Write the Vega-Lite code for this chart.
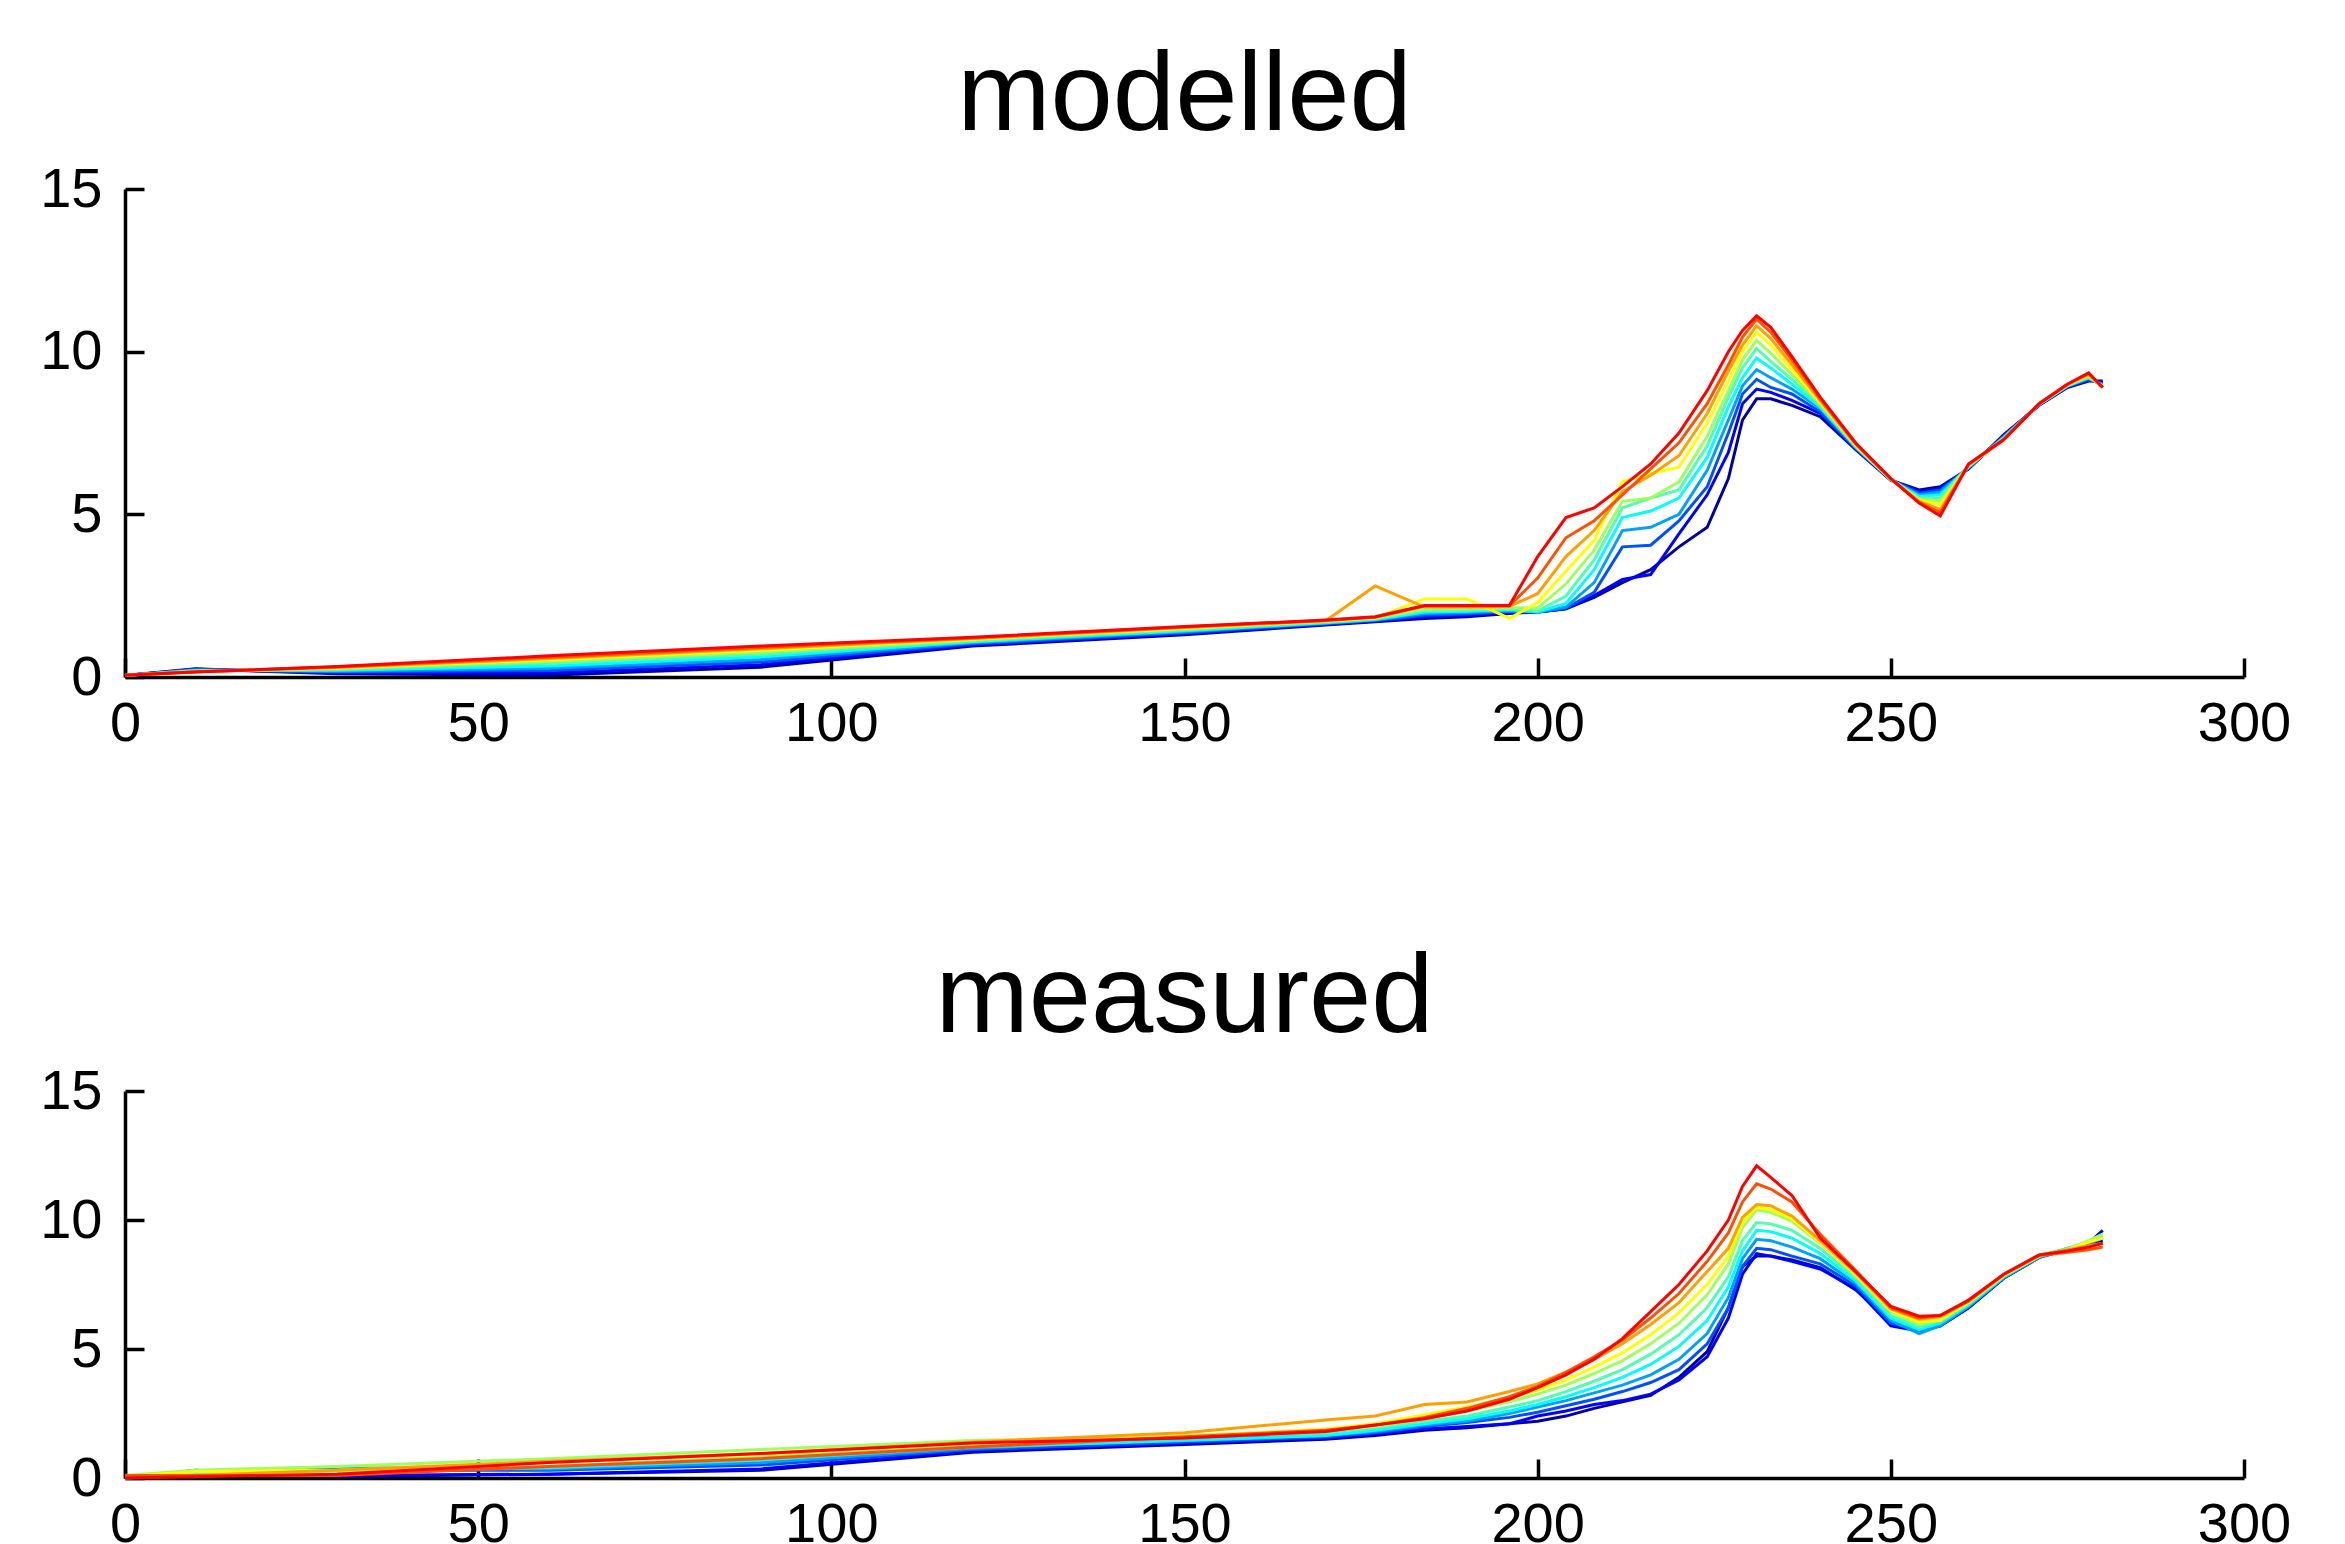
{
"$schema": "https://vega.github.io/schema/vega-lite/v6.json",
"background": "white",
"padding": {"left": 39, "top": 40, "right": 20, "bottom": 0},
"spacing": 191,
"config": {
  "view": {"stroke": null},
  "font": "Liberation Sans",
  "axis": {"grid": false, "domainColor": "black", "domainWidth": 3.5, "tickColor": "black", "tickWidth": 3.5, "tickSize": -19, "labelFont": "Liberation Sans", "labelFontSize": 56, "labelColor": "black", "labelFlush": false, "labelOverlap": false, "title": null},
  "axisX": {"labelPadding": 38},
  "axisY": {"labelPadding": 42},
  "title": {"font": "Liberation Sans", "fontSize": 112, "fontWeight": "normal", "color": "black", "baseline": "alphabetic", "offset": 7, "anchor": "middle"}
},
"datasets": {
"mod": [
{"s":0,"x":0,"y":0.05},{"s":1,"x":0,"y":0.05},{"s":2,"x":0,"y":0.05},{"s":3,"x":0,"y":0.05},{"s":4,"x":0,"y":0.05},{"s":5,"x":0,"y":0.05},{"s":6,"x":0,"y":0.05},{"s":7,"x":0,"y":0.05},{"s":8,"x":0,"y":0.05},{"s":9,"x":0,"y":0.05},{"s":10,"x":0,"y":0.05},
{"s":0,"x":10,"y":0.25},{"s":1,"x":10,"y":0.24},{"s":2,"x":10,"y":0.23},{"s":3,"x":10,"y":0.21},{"s":4,"x":10,"y":0.2},{"s":5,"x":10,"y":0.19},{"s":6,"x":10,"y":0.18},{"s":7,"x":10,"y":0.17},{"s":8,"x":10,"y":0.16},{"s":9,"x":10,"y":0.16},{"s":10,"x":10,"y":0.15},
{"s":0,"x":30,"y":0.1},{"s":1,"x":30,"y":0.13},{"s":2,"x":30,"y":0.16},{"s":3,"x":30,"y":0.18},{"s":4,"x":30,"y":0.21},{"s":5,"x":30,"y":0.23},{"s":6,"x":30,"y":0.26},{"s":7,"x":30,"y":0.28},{"s":8,"x":30,"y":0.29},{"s":9,"x":30,"y":0.31},{"s":10,"x":30,"y":0.32},
{"s":0,"x":60,"y":0.05},{"s":1,"x":60,"y":0.12},{"s":2,"x":60,"y":0.2},{"s":3,"x":60,"y":0.27},{"s":4,"x":60,"y":0.34},{"s":5,"x":60,"y":0.42},{"s":6,"x":60,"y":0.48},{"s":7,"x":60,"y":0.53},{"s":8,"x":60,"y":0.57},{"s":9,"x":60,"y":0.61},{"s":10,"x":60,"y":0.65},
{"s":0,"x":90,"y":0.3},{"s":1,"x":90,"y":0.38},{"s":2,"x":90,"y":0.46},{"s":3,"x":90,"y":0.54},{"s":4,"x":90,"y":0.62},{"s":5,"x":90,"y":0.7},{"s":6,"x":90,"y":0.77},{"s":7,"x":90,"y":0.82},{"s":8,"x":90,"y":0.87},{"s":9,"x":90,"y":0.91},{"s":10,"x":90,"y":0.95},
{"s":0,"x":120,"y":0.95},{"s":1,"x":120,"y":0.98},{"s":2,"x":120,"y":1.02},{"s":3,"x":120,"y":1.05},{"s":4,"x":120,"y":1.08},{"s":5,"x":120,"y":1.11},{"s":6,"x":120,"y":1.14},{"s":7,"x":120,"y":1.17},{"s":8,"x":120,"y":1.18},{"s":9,"x":120,"y":1.2},{"s":10,"x":120,"y":1.22},
{"s":0,"x":150,"y":1.3},{"s":1,"x":150,"y":1.33},{"s":2,"x":150,"y":1.36},{"s":3,"x":150,"y":1.39},{"s":4,"x":150,"y":1.42},{"s":5,"x":150,"y":1.45},{"s":6,"x":150,"y":1.48},{"s":7,"x":150,"y":1.5},{"s":8,"x":150,"y":1.52},{"s":9,"x":150,"y":1.54},{"s":10,"x":150,"y":1.55},
{"s":0,"x":170,"y":1.6},{"s":1,"x":170,"y":1.62},{"s":2,"x":170,"y":1.64},{"s":3,"x":170,"y":1.66},{"s":4,"x":170,"y":1.67},{"s":5,"x":170,"y":1.69},{"s":6,"x":170,"y":1.71},{"s":7,"x":170,"y":1.72},{"s":8,"x":170,"y":1.73},{"s":9,"x":170,"y":1.74},{"s":10,"x":170,"y":1.75},
{"s":0,"x":177,"y":1.7},{"s":1,"x":177,"y":1.72},{"s":2,"x":177,"y":1.74},{"s":3,"x":177,"y":1.76},{"s":4,"x":177,"y":1.77},{"s":5,"x":177,"y":1.79},{"s":6,"x":177,"y":1.81},{"s":7,"x":177,"y":1.82},{"s":8,"x":177,"y":2.8},{"s":9,"x":177,"y":1.84},{"s":10,"x":177,"y":1.85},
{"s":0,"x":184,"y":1.8},{"s":1,"x":184,"y":1.85},{"s":2,"x":184,"y":1.9},{"s":3,"x":184,"y":1.95},{"s":4,"x":184,"y":2.0},{"s":5,"x":184,"y":2.04},{"s":6,"x":184,"y":2.09},{"s":7,"x":184,"y":2.4},{"s":8,"x":184,"y":2.15},{"s":9,"x":184,"y":2.18},{"s":10,"x":184,"y":2.2},
{"s":0,"x":190,"y":1.85},{"s":1,"x":190,"y":1.89},{"s":2,"x":190,"y":1.94},{"s":3,"x":190,"y":1.98},{"s":4,"x":190,"y":2.02},{"s":5,"x":190,"y":2.06},{"s":6,"x":190,"y":2.1},{"s":7,"x":190,"y":2.4},{"s":8,"x":190,"y":2.15},{"s":9,"x":190,"y":2.18},{"s":10,"x":190,"y":2.2},
{"s":0,"x":196,"y":1.95},{"s":1,"x":196,"y":1.98},{"s":2,"x":196,"y":2.01},{"s":3,"x":196,"y":2.04},{"s":4,"x":196,"y":2.07},{"s":5,"x":196,"y":2.1},{"s":6,"x":196,"y":2.13},{"s":7,"x":196,"y":1.8},{"s":8,"x":196,"y":2.17},{"s":9,"x":196,"y":2.19},{"s":10,"x":196,"y":2.2},
{"s":0,"x":200,"y":2.0},{"s":1,"x":200,"y":2.0},{"s":2,"x":200,"y":2.0},{"s":3,"x":200,"y":2.0},{"s":4,"x":200,"y":2.0},{"s":5,"x":200,"y":2.03},{"s":6,"x":200,"y":2.12},{"s":7,"x":200,"y":2.29},{"s":8,"x":200,"y":2.56},{"s":9,"x":200,"y":3.04},{"s":10,"x":200,"y":3.7},
{"s":0,"x":204,"y":2.1},{"s":1,"x":204,"y":2.1},{"s":2,"x":204,"y":2.11},{"s":3,"x":204,"y":2.15},{"s":4,"x":204,"y":2.26},{"s":5,"x":204,"y":2.49},{"s":6,"x":204,"y":2.86},{"s":7,"x":204,"y":3.25},{"s":8,"x":204,"y":3.7},{"s":9,"x":204,"y":4.28},{"s":10,"x":204,"y":4.9},
{"s":0,"x":208,"y":2.45},{"s":1,"x":208,"y":2.5},{"s":2,"x":208,"y":2.6},{"s":3,"x":208,"y":2.9},{"s":4,"x":208,"y":3.3},{"s":5,"x":208,"y":3.6},{"s":6,"x":208,"y":3.9},{"s":7,"x":208,"y":4.2},{"s":8,"x":208,"y":4.5},{"s":9,"x":208,"y":4.8},{"s":10,"x":208,"y":5.2},
{"s":0,"x":212,"y":2.9},{"s":1,"x":212,"y":3.0},{"s":2,"x":212,"y":4.0},{"s":3,"x":212,"y":4.5},{"s":4,"x":212,"y":4.9},{"s":5,"x":212,"y":5.2},{"s":6,"x":212,"y":5.4},{"s":7,"x":212,"y":6.0},{"s":8,"x":212,"y":5.7},{"s":9,"x":212,"y":5.6},{"s":10,"x":212,"y":5.85},
{"s":0,"x":216,"y":3.3},{"s":1,"x":216,"y":3.15},{"s":2,"x":216,"y":4.05},{"s":3,"x":216,"y":4.6},{"s":4,"x":216,"y":5.1},{"s":5,"x":216,"y":5.5},{"s":6,"x":216,"y":5.5},{"s":7,"x":216,"y":6.25},{"s":8,"x":216,"y":6.2},{"s":9,"x":216,"y":6.4},{"s":10,"x":216,"y":6.55},
{"s":0,"x":220,"y":4.0},{"s":1,"x":220,"y":4.4},{"s":2,"x":220,"y":4.8},{"s":3,"x":220,"y":5.0},{"s":4,"x":220,"y":5.5},{"s":5,"x":220,"y":5.75},{"s":6,"x":220,"y":6.0},{"s":7,"x":220,"y":6.45},{"s":8,"x":220,"y":6.8},{"s":9,"x":220,"y":7.2},{"s":10,"x":220,"y":7.5},
{"s":0,"x":224,"y":4.6},{"s":1,"x":224,"y":5.6},{"s":2,"x":224,"y":5.85},{"s":3,"x":224,"y":6.35},{"s":4,"x":224,"y":6.75},{"s":5,"x":224,"y":7.1},{"s":6,"x":224,"y":7.4},{"s":7,"x":224,"y":7.8},{"s":8,"x":224,"y":8.1},{"s":9,"x":224,"y":8.4},{"s":10,"x":224,"y":8.8},
{"s":0,"x":227,"y":6.1},{"s":1,"x":227,"y":6.9},{"s":2,"x":227,"y":7.5},{"s":3,"x":227,"y":7.9},{"s":4,"x":227,"y":8.3},{"s":5,"x":227,"y":8.6},{"s":6,"x":227,"y":8.8},{"s":7,"x":227,"y":9.1},{"s":8,"x":227,"y":9.4},{"s":9,"x":227,"y":9.6},{"s":10,"x":227,"y":10.0},
{"s":0,"x":229,"y":7.9},{"s":1,"x":229,"y":8.4},{"s":2,"x":229,"y":8.7},{"s":3,"x":229,"y":8.95},{"s":4,"x":229,"y":9.2},{"s":5,"x":229,"y":9.5},{"s":6,"x":229,"y":9.75},{"s":7,"x":229,"y":10.0},{"s":8,"x":229,"y":10.2},{"s":9,"x":229,"y":10.45},{"s":10,"x":229,"y":10.65},
{"s":0,"x":231,"y":8.55},{"s":1,"x":231,"y":8.85},{"s":2,"x":231,"y":9.15},{"s":3,"x":231,"y":9.45},{"s":4,"x":231,"y":9.8},{"s":5,"x":231,"y":10.1},{"s":6,"x":231,"y":10.35},{"s":7,"x":231,"y":10.6},{"s":8,"x":231,"y":10.8},{"s":9,"x":231,"y":11.0},{"s":10,"x":231,"y":11.1},
{"s":0,"x":233,"y":8.55},{"s":1,"x":233,"y":8.75},{"s":2,"x":233,"y":8.9},{"s":3,"x":233,"y":9.2},{"s":4,"x":233,"y":9.5},{"s":5,"x":233,"y":9.7},{"s":6,"x":233,"y":9.95},{"s":7,"x":233,"y":10.2},{"s":8,"x":233,"y":10.4},{"s":9,"x":233,"y":10.6},{"s":10,"x":233,"y":10.75},
{"s":0,"x":236,"y":8.35},{"s":1,"x":236,"y":8.5},{"s":2,"x":236,"y":8.7},{"s":3,"x":236,"y":8.85},{"s":4,"x":236,"y":9.0},{"s":5,"x":236,"y":9.15},{"s":6,"x":236,"y":9.3},{"s":7,"x":236,"y":9.45},{"s":8,"x":236,"y":9.6},{"s":9,"x":236,"y":9.75},{"s":10,"x":236,"y":9.85},
{"s":0,"x":240,"y":8.0},{"s":1,"x":240,"y":8.1},{"s":2,"x":240,"y":8.15},{"s":3,"x":240,"y":8.25},{"s":4,"x":240,"y":8.3},{"s":5,"x":240,"y":8.35},{"s":6,"x":240,"y":8.4},{"s":7,"x":240,"y":8.45},{"s":8,"x":240,"y":8.5},{"s":9,"x":240,"y":8.55},{"s":10,"x":240,"y":8.6},
{"s":0,"x":245,"y":7.0},{"s":1,"x":245,"y":7.02},{"s":2,"x":245,"y":7.04},{"s":3,"x":245,"y":7.06},{"s":4,"x":245,"y":7.08},{"s":5,"x":245,"y":7.1},{"s":6,"x":245,"y":7.12},{"s":7,"x":245,"y":7.14},{"s":8,"x":245,"y":7.16},{"s":9,"x":245,"y":7.18},{"s":10,"x":245,"y":7.2},
{"s":0,"x":250,"y":6.05},{"s":1,"x":250,"y":6.05},{"s":2,"x":250,"y":6.06},{"s":3,"x":250,"y":6.06},{"s":4,"x":250,"y":6.07},{"s":5,"x":250,"y":6.07},{"s":6,"x":250,"y":6.08},{"s":7,"x":250,"y":6.08},{"s":8,"x":250,"y":6.09},{"s":9,"x":250,"y":6.1},{"s":10,"x":250,"y":6.1},
{"s":0,"x":254,"y":5.75},{"s":1,"x":254,"y":5.7},{"s":2,"x":254,"y":5.65},{"s":3,"x":254,"y":5.6},{"s":4,"x":254,"y":5.55},{"s":5,"x":254,"y":5.5},{"s":6,"x":254,"y":5.46},{"s":7,"x":254,"y":5.43},{"s":8,"x":254,"y":5.4},{"s":9,"x":254,"y":5.37},{"s":10,"x":254,"y":5.35},
{"s":0,"x":257,"y":5.85},{"s":1,"x":257,"y":5.8},{"s":2,"x":257,"y":5.75},{"s":3,"x":257,"y":5.68},{"s":4,"x":257,"y":5.6},{"s":5,"x":257,"y":5.5},{"s":6,"x":257,"y":5.4},{"s":7,"x":257,"y":5.3},{"s":8,"x":257,"y":5.15},{"s":9,"x":257,"y":5.05},{"s":10,"x":257,"y":4.95},
{"s":0,"x":261,"y":6.4},{"s":1,"x":261,"y":6.4},{"s":2,"x":261,"y":6.42},{"s":3,"x":261,"y":6.44},{"s":4,"x":261,"y":6.46},{"s":5,"x":261,"y":6.48},{"s":6,"x":261,"y":6.5},{"s":7,"x":261,"y":6.5},{"s":8,"x":261,"y":6.52},{"s":9,"x":261,"y":6.53},{"s":10,"x":261,"y":6.55},
{"s":0,"x":266,"y":7.45},{"s":1,"x":266,"y":7.42},{"s":2,"x":266,"y":7.4},{"s":3,"x":266,"y":7.38},{"s":4,"x":266,"y":7.36},{"s":5,"x":266,"y":7.34},{"s":6,"x":266,"y":7.32},{"s":7,"x":266,"y":7.3},{"s":8,"x":266,"y":7.3},{"s":9,"x":266,"y":7.3},{"s":10,"x":266,"y":7.3},
{"s":0,"x":271,"y":8.35},{"s":1,"x":271,"y":8.36},{"s":2,"x":271,"y":8.37},{"s":3,"x":271,"y":8.38},{"s":4,"x":271,"y":8.38},{"s":5,"x":271,"y":8.39},{"s":6,"x":271,"y":8.39},{"s":7,"x":271,"y":8.4},{"s":8,"x":271,"y":8.4},{"s":9,"x":271,"y":8.4},{"s":10,"x":271,"y":8.4},
{"s":0,"x":275,"y":8.9},{"s":1,"x":275,"y":8.92},{"s":2,"x":275,"y":8.93},{"s":3,"x":275,"y":8.94},{"s":4,"x":275,"y":8.95},{"s":5,"x":275,"y":8.96},{"s":6,"x":275,"y":8.97},{"s":7,"x":275,"y":8.98},{"s":8,"x":275,"y":8.99},{"s":9,"x":275,"y":9.0},{"s":10,"x":275,"y":9.0},
{"s":0,"x":278,"y":9.1},{"s":1,"x":278,"y":9.12},{"s":2,"x":278,"y":9.15},{"s":3,"x":278,"y":9.18},{"s":4,"x":278,"y":9.2},{"s":5,"x":278,"y":9.22},{"s":6,"x":278,"y":9.25},{"s":7,"x":278,"y":9.28},{"s":8,"x":278,"y":9.3},{"s":9,"x":278,"y":9.33},{"s":10,"x":278,"y":9.35},
{"s":0,"x":280,"y":9.1},{"s":1,"x":280,"y":9.05},{"s":2,"x":280,"y":9.0},{"s":3,"x":280,"y":8.98},{"s":4,"x":280,"y":8.96},{"s":5,"x":280,"y":8.94},{"s":6,"x":280,"y":8.93},{"s":7,"x":280,"y":8.92},{"s":8,"x":280,"y":8.91},{"s":9,"x":280,"y":8.9},{"s":10,"x":280,"y":8.9}
],
"meas": [
{"s":0,"x":0,"y":0.0},{"s":1,"x":0,"y":0.05},{"s":2,"x":0,"y":0.0},{"s":3,"x":0,"y":0.1},{"s":4,"x":0,"y":0.0},{"s":5,"x":0,"y":0.05},{"s":6,"x":0,"y":0.1},{"s":7,"x":0,"y":0.05},{"s":8,"x":0,"y":0.1},{"s":9,"x":0,"y":0.1},{"s":10,"x":0,"y":0.0},
{"s":0,"x":10,"y":0.3},{"s":1,"x":10,"y":0.2},{"s":2,"x":10,"y":0.15},{"s":3,"x":10,"y":0.05},{"s":4,"x":10,"y":0.1},{"s":5,"x":10,"y":0.2},{"s":6,"x":10,"y":0.3},{"s":7,"x":10,"y":0.25},{"s":8,"x":10,"y":0.1},{"s":9,"x":10,"y":0.1},{"s":10,"x":10,"y":0.05},
{"s":0,"x":30,"y":0.05},{"s":1,"x":30,"y":0.1},{"s":2,"x":30,"y":0.3},{"s":3,"x":30,"y":0.4},{"s":4,"x":30,"y":0.25},{"s":5,"x":30,"y":0.2},{"s":6,"x":30,"y":0.45},{"s":7,"x":30,"y":0.3},{"s":8,"x":30,"y":0.3},{"s":9,"x":30,"y":0.1},{"s":10,"x":30,"y":0.15},
{"s":0,"x":60,"y":0.15},{"s":1,"x":60,"y":0.15},{"s":2,"x":60,"y":0.3},{"s":3,"x":60,"y":0.35},{"s":4,"x":60,"y":0.4},{"s":5,"x":60,"y":0.45},{"s":6,"x":60,"y":0.75},{"s":7,"x":60,"y":0.6},{"s":8,"x":60,"y":0.65},{"s":9,"x":60,"y":0.45},{"s":10,"x":60,"y":0.6},
{"s":0,"x":90,"y":0.3},{"s":1,"x":90,"y":0.35},{"s":2,"x":90,"y":0.5},{"s":3,"x":90,"y":0.6},{"s":4,"x":90,"y":0.7},{"s":5,"x":90,"y":0.8},{"s":6,"x":90,"y":1.1},{"s":7,"x":90,"y":0.9},{"s":8,"x":90,"y":0.95},{"s":9,"x":90,"y":0.75},{"s":10,"x":90,"y":0.95},
{"s":0,"x":120,"y":1.0},{"s":1,"x":120,"y":1.05},{"s":2,"x":120,"y":1.1},{"s":3,"x":120,"y":1.15},{"s":4,"x":120,"y":1.2},{"s":5,"x":120,"y":1.3},{"s":6,"x":120,"y":1.45},{"s":7,"x":120,"y":1.35},{"s":8,"x":120,"y":1.4},{"s":9,"x":120,"y":1.2},{"s":10,"x":120,"y":1.36},
{"s":0,"x":150,"y":1.3},{"s":1,"x":150,"y":1.35},{"s":2,"x":150,"y":1.4},{"s":3,"x":150,"y":1.5},{"s":4,"x":150,"y":1.45},{"s":5,"x":150,"y":1.6},{"s":6,"x":150,"y":1.65},{"s":7,"x":150,"y":1.6},{"s":8,"x":150,"y":1.75},{"s":9,"x":150,"y":1.6},{"s":10,"x":150,"y":1.55},
{"s":0,"x":170,"y":1.5},{"s":1,"x":170,"y":1.55},{"s":2,"x":170,"y":1.6},{"s":3,"x":170,"y":1.65},{"s":4,"x":170,"y":1.65},{"s":5,"x":170,"y":1.75},{"s":6,"x":170,"y":1.85},{"s":7,"x":170,"y":1.9},{"s":8,"x":170,"y":2.25},{"s":9,"x":170,"y":1.85},{"s":10,"x":170,"y":1.8},
{"s":0,"x":177,"y":1.65},{"s":1,"x":177,"y":1.7},{"s":2,"x":177,"y":1.75},{"s":3,"x":177,"y":1.8},{"s":4,"x":177,"y":1.85},{"s":5,"x":177,"y":1.95},{"s":6,"x":177,"y":2.0},{"s":7,"x":177,"y":2.1},{"s":8,"x":177,"y":2.4},{"s":9,"x":177,"y":2.05},{"s":10,"x":177,"y":2.05},
{"s":0,"x":184,"y":1.85},{"s":1,"x":184,"y":1.9},{"s":2,"x":184,"y":2.0},{"s":3,"x":184,"y":2.05},{"s":4,"x":184,"y":2.1},{"s":5,"x":184,"y":2.2},{"s":6,"x":184,"y":2.3},{"s":7,"x":184,"y":2.45},{"s":8,"x":184,"y":2.85},{"s":9,"x":184,"y":2.35},{"s":10,"x":184,"y":2.3},
{"s":0,"x":190,"y":1.95},{"s":1,"x":190,"y":2.0},{"s":2,"x":190,"y":2.15},{"s":3,"x":190,"y":2.2},{"s":4,"x":190,"y":2.3},{"s":5,"x":190,"y":2.4},{"s":6,"x":190,"y":2.6},{"s":7,"x":190,"y":2.75},{"s":8,"x":190,"y":2.95},{"s":9,"x":190,"y":2.7},{"s":10,"x":190,"y":2.6},
{"s":0,"x":196,"y":2.1},{"s":1,"x":196,"y":2.1},{"s":2,"x":196,"y":2.35},{"s":3,"x":196,"y":2.5},{"s":4,"x":196,"y":2.6},{"s":5,"x":196,"y":2.75},{"s":6,"x":196,"y":2.95},{"s":7,"x":196,"y":3.1},{"s":8,"x":196,"y":3.35},{"s":9,"x":196,"y":3.15},{"s":10,"x":196,"y":3.05},
{"s":0,"x":200,"y":2.2},{"s":1,"x":200,"y":2.4},{"s":2,"x":200,"y":2.55},{"s":3,"x":200,"y":2.75},{"s":4,"x":200,"y":2.85},{"s":5,"x":200,"y":3.0},{"s":6,"x":200,"y":3.25},{"s":7,"x":200,"y":3.4},{"s":8,"x":200,"y":3.65},{"s":9,"x":200,"y":3.55},{"s":10,"x":200,"y":3.5},
{"s":0,"x":204,"y":2.4},{"s":1,"x":204,"y":2.6},{"s":2,"x":204,"y":2.8},{"s":3,"x":204,"y":3.0},{"s":4,"x":204,"y":3.15},{"s":5,"x":204,"y":3.35},{"s":6,"x":204,"y":3.6},{"s":7,"x":204,"y":3.8},{"s":8,"x":204,"y":4.1},{"s":9,"x":204,"y":4.1},{"s":10,"x":204,"y":4.0},
{"s":0,"x":208,"y":2.7},{"s":1,"x":208,"y":2.85},{"s":2,"x":208,"y":3.05},{"s":3,"x":208,"y":3.3},{"s":4,"x":208,"y":3.5},{"s":5,"x":208,"y":3.75},{"s":6,"x":208,"y":4.05},{"s":7,"x":208,"y":4.3},{"s":8,"x":208,"y":4.6},{"s":9,"x":208,"y":4.7},{"s":10,"x":208,"y":4.6},
{"s":0,"x":212,"y":2.95},{"s":1,"x":212,"y":3.0},{"s":2,"x":212,"y":3.35},{"s":3,"x":212,"y":3.6},{"s":4,"x":212,"y":3.9},{"s":5,"x":212,"y":4.2},{"s":6,"x":212,"y":4.55},{"s":7,"x":212,"y":4.85},{"s":8,"x":212,"y":5.2},{"s":9,"x":212,"y":5.35},{"s":10,"x":212,"y":5.4},
{"s":0,"x":216,"y":3.2},{"s":1,"x":216,"y":3.25},{"s":2,"x":216,"y":3.7},{"s":3,"x":216,"y":4.0},{"s":4,"x":216,"y":4.4},{"s":5,"x":216,"y":4.8},{"s":6,"x":216,"y":5.2},{"s":7,"x":216,"y":5.55},{"s":8,"x":216,"y":5.95},{"s":9,"x":216,"y":6.2},{"s":10,"x":216,"y":6.45},
{"s":0,"x":220,"y":3.9},{"s":1,"x":220,"y":3.8},{"s":2,"x":220,"y":4.2},{"s":3,"x":220,"y":4.6},{"s":4,"x":220,"y":5.1},{"s":5,"x":220,"y":5.55},{"s":6,"x":220,"y":6.0},{"s":7,"x":220,"y":6.4},{"s":8,"x":220,"y":6.8},{"s":9,"x":220,"y":7.15},{"s":10,"x":220,"y":7.5},
{"s":0,"x":224,"y":4.9},{"s":1,"x":224,"y":4.7},{"s":2,"x":224,"y":5.2},{"s":3,"x":224,"y":5.6},{"s":4,"x":224,"y":6.1},{"s":5,"x":224,"y":6.6},{"s":6,"x":224,"y":7.1},{"s":7,"x":224,"y":7.5},{"s":8,"x":224,"y":8.0},{"s":9,"x":224,"y":8.4},{"s":10,"x":224,"y":8.8},
{"s":0,"x":227,"y":6.6},{"s":1,"x":227,"y":6.2},{"s":2,"x":227,"y":6.6},{"s":3,"x":227,"y":7.0},{"s":4,"x":227,"y":7.4},{"s":5,"x":227,"y":7.8},{"s":6,"x":227,"y":8.3},{"s":7,"x":227,"y":8.6},{"s":8,"x":227,"y":8.9},{"s":9,"x":227,"y":9.5},{"s":10,"x":227,"y":10.0},
{"s":0,"x":229,"y":8.2},{"s":1,"x":229,"y":7.9},{"s":2,"x":229,"y":8.2},{"s":3,"x":229,"y":8.5},{"s":4,"x":229,"y":8.8},{"s":5,"x":229,"y":9.2},{"s":6,"x":229,"y":9.7},{"s":7,"x":229,"y":9.9},{"s":8,"x":229,"y":10.1},{"s":9,"x":229,"y":10.7},{"s":10,"x":229,"y":11.3},
{"s":0,"x":231,"y":8.6},{"s":1,"x":231,"y":8.7},{"s":2,"x":231,"y":8.9},{"s":3,"x":231,"y":9.25},{"s":4,"x":231,"y":9.6},{"s":5,"x":231,"y":9.9},{"s":6,"x":231,"y":10.4},{"s":7,"x":231,"y":10.5},{"s":8,"x":231,"y":10.6},{"s":9,"x":231,"y":11.4},{"s":10,"x":231,"y":12.1},
{"s":0,"x":233,"y":8.6},{"s":1,"x":233,"y":8.6},{"s":2,"x":233,"y":8.85},{"s":3,"x":233,"y":9.2},{"s":4,"x":233,"y":9.55},{"s":5,"x":233,"y":9.85},{"s":6,"x":233,"y":10.3},{"s":7,"x":233,"y":10.4},{"s":8,"x":233,"y":10.55},{"s":9,"x":233,"y":11.2},{"s":10,"x":233,"y":11.65},
{"s":0,"x":236,"y":8.45},{"s":1,"x":236,"y":8.4},{"s":2,"x":236,"y":8.6},{"s":3,"x":236,"y":8.95},{"s":4,"x":236,"y":9.3},{"s":5,"x":236,"y":9.6},{"s":6,"x":236,"y":9.95},{"s":7,"x":236,"y":10.05},{"s":8,"x":236,"y":10.15},{"s":9,"x":236,"y":10.7},{"s":10,"x":236,"y":10.95},
{"s":0,"x":240,"y":8.15},{"s":1,"x":240,"y":8.1},{"s":2,"x":240,"y":8.3},{"s":3,"x":240,"y":8.5},{"s":4,"x":240,"y":8.7},{"s":5,"x":240,"y":8.9},{"s":6,"x":240,"y":9.1},{"s":7,"x":240,"y":9.15},{"s":8,"x":240,"y":9.2},{"s":9,"x":240,"y":9.45},{"s":10,"x":240,"y":9.3},
{"s":0,"x":245,"y":7.3},{"s":1,"x":245,"y":7.35},{"s":2,"x":245,"y":7.45},{"s":3,"x":245,"y":7.55},{"s":4,"x":245,"y":7.65},{"s":5,"x":245,"y":7.75},{"s":6,"x":245,"y":7.85},{"s":7,"x":245,"y":7.9},{"s":8,"x":245,"y":7.95},{"s":9,"x":245,"y":8.05},{"s":10,"x":245,"y":8.0},
{"s":0,"x":250,"y":6.05},{"s":1,"x":250,"y":5.9},{"s":2,"x":250,"y":6.0},{"s":3,"x":250,"y":6.1},{"s":4,"x":250,"y":6.2},{"s":5,"x":250,"y":6.3},{"s":6,"x":250,"y":6.45},{"s":7,"x":250,"y":6.5},{"s":8,"x":250,"y":6.55},{"s":9,"x":250,"y":6.6},{"s":10,"x":250,"y":6.65},
{"s":0,"x":254,"y":5.7},{"s":1,"x":254,"y":5.7},{"s":2,"x":254,"y":5.75},{"s":3,"x":254,"y":5.6},{"s":4,"x":254,"y":5.75},{"s":5,"x":254,"y":5.85},{"s":6,"x":254,"y":5.95},{"s":7,"x":254,"y":6.05},{"s":8,"x":254,"y":6.15},{"s":9,"x":254,"y":6.2},{"s":10,"x":254,"y":6.27},
{"s":0,"x":257,"y":5.9},{"s":1,"x":257,"y":5.9},{"s":2,"x":257,"y":6.0},{"s":3,"x":257,"y":5.9},{"s":4,"x":257,"y":6.0},{"s":5,"x":257,"y":6.1},{"s":6,"x":257,"y":6.15},{"s":7,"x":257,"y":6.1},{"s":8,"x":257,"y":6.25},{"s":9,"x":257,"y":6.3},{"s":10,"x":257,"y":6.3},
{"s":0,"x":261,"y":6.6},{"s":1,"x":261,"y":6.6},{"s":2,"x":261,"y":6.65},{"s":3,"x":261,"y":6.65},{"s":4,"x":261,"y":6.7},{"s":5,"x":261,"y":6.75},{"s":6,"x":261,"y":6.8},{"s":7,"x":261,"y":6.8},{"s":8,"x":261,"y":6.85},{"s":9,"x":261,"y":6.85},{"s":10,"x":261,"y":6.9},
{"s":0,"x":266,"y":7.75},{"s":1,"x":266,"y":7.75},{"s":2,"x":266,"y":7.75},{"s":3,"x":266,"y":7.78},{"s":4,"x":266,"y":7.8},{"s":5,"x":266,"y":7.82},{"s":6,"x":266,"y":7.85},{"s":7,"x":266,"y":7.85},{"s":8,"x":266,"y":7.88},{"s":9,"x":266,"y":7.9},{"s":10,"x":266,"y":7.9},
{"s":0,"x":271,"y":8.55},{"s":1,"x":271,"y":8.55},{"s":2,"x":271,"y":8.55},{"s":3,"x":271,"y":8.55},{"s":4,"x":271,"y":8.6},{"s":5,"x":271,"y":8.6},{"s":6,"x":271,"y":8.6},{"s":7,"x":271,"y":8.6},{"s":8,"x":271,"y":8.65},{"s":9,"x":271,"y":8.62},{"s":10,"x":271,"y":8.65},
{"s":0,"x":275,"y":8.9},{"s":1,"x":275,"y":8.85},{"s":2,"x":275,"y":8.85},{"s":3,"x":275,"y":8.85},{"s":4,"x":275,"y":8.9},{"s":5,"x":275,"y":8.9},{"s":6,"x":275,"y":8.85},{"s":7,"x":275,"y":8.85},{"s":8,"x":275,"y":8.85},{"s":9,"x":275,"y":8.75},{"s":10,"x":275,"y":8.8},
{"s":0,"x":278,"y":9.0},{"s":1,"x":278,"y":9.1},{"s":2,"x":278,"y":9.1},{"s":3,"x":278,"y":9.1},{"s":4,"x":278,"y":9.15},{"s":5,"x":278,"y":9.15},{"s":6,"x":278,"y":9.2},{"s":7,"x":278,"y":9.15},{"s":8,"x":278,"y":9.0},{"s":9,"x":278,"y":8.85},{"s":10,"x":278,"y":8.95},
{"s":0,"x":280,"y":9.2},{"s":1,"x":280,"y":9.6},{"s":2,"x":280,"y":9.3},{"s":3,"x":280,"y":9.3},{"s":4,"x":280,"y":9.35},{"s":5,"x":280,"y":9.35},{"s":6,"x":280,"y":9.45},{"s":7,"x":280,"y":9.3},{"s":8,"x":280,"y":9.1},{"s":9,"x":280,"y":8.95},{"s":10,"x":280,"y":9.1}
]
},
"vconcat": [
{
  "title": "modelled",
  "width": 2119, "height": 488,
  "data": {"name": "mod"},
  "mark": {"type": "line", "strokeWidth": 3},
  "encoding": {
    "x": {"field": "x", "type": "quantitative", "scale": {"domain": [0, 300], "nice": false}, "axis": {"values": [0, 50, 100, 150, 200, 250, 300]}},
    "y": {"field": "y", "type": "quantitative", "scale": {"domain": [0, 15], "nice": false}, "axis": {"values": [0, 5, 10, 15]}},
    "color": {"field": "s", "type": "nominal", "scale": {"domain": [0,1,2,3,4,5,6,7,8,9,10], "range": ["#0000A0","#0000FF","#0050FF","#00A0FF","#00FFFF","#50FFAF","#A0FF5F","#FFFF00","#FFA000","#FF5000","#FF0000"]}, "legend": null}
  }
},
{
  "title": "measured",
  "width": 2119, "height": 387,
  "data": {"name": "meas"},
  "mark": {"type": "line", "strokeWidth": 3},
  "encoding": {
    "x": {"field": "x", "type": "quantitative", "scale": {"domain": [0, 300], "nice": false}, "axis": {"values": [0, 50, 100, 150, 200, 250, 300]}},
    "y": {"field": "y", "type": "quantitative", "scale": {"domain": [0, 15], "nice": false}, "axis": {"values": [0, 5, 10, 15]}},
    "color": {"field": "s", "type": "nominal", "scale": {"domain": [0,1,2,3,4,5,6,7,8,9,10], "range": ["#0000A0","#0000FF","#0050FF","#00A0FF","#00FFFF","#50FFAF","#A0FF5F","#FFFF00","#FFA000","#FF5000","#FF0000"]}, "legend": null}
  }
}
]
}
